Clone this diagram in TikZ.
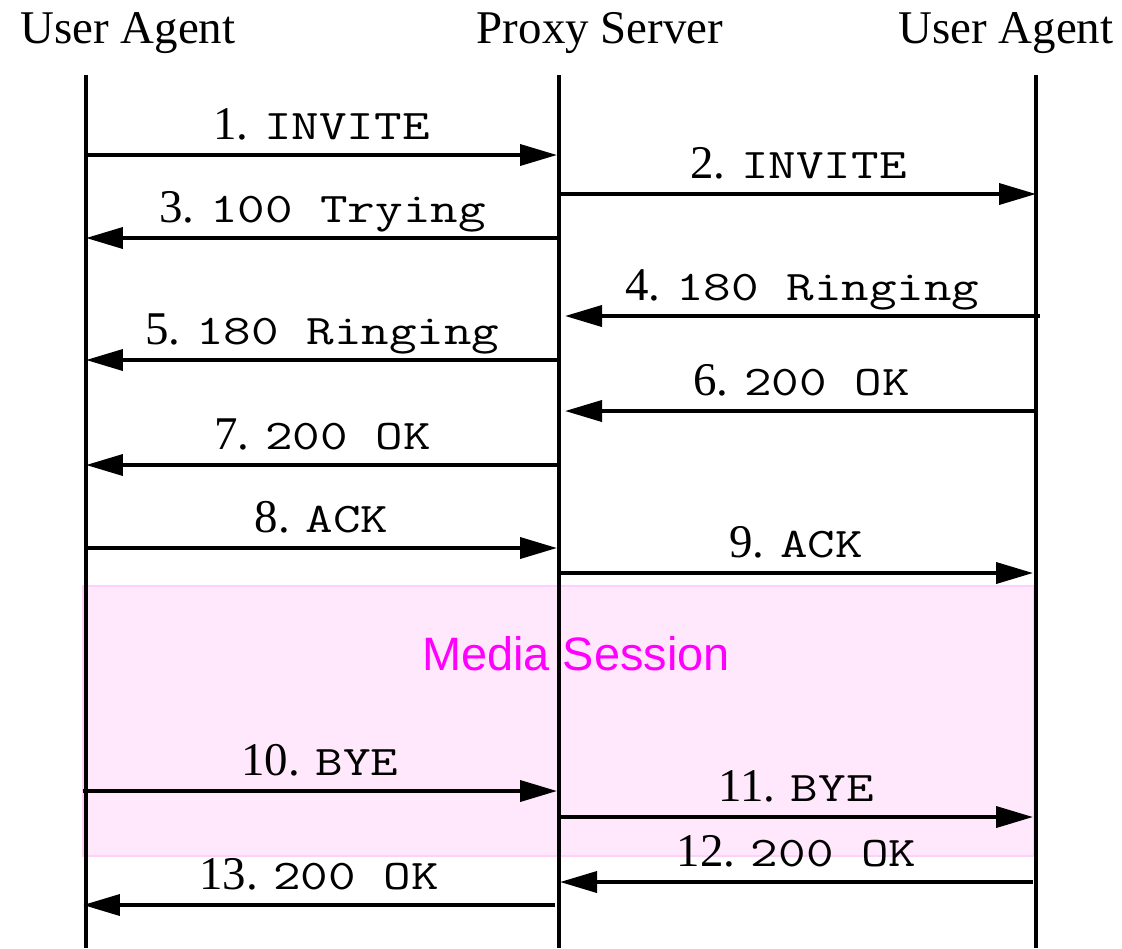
\documentclass[tikz,border=0pt]{standalone}
\usepackage{fontspec}
\setmainfont{Liberation Serif}
\setsansfont{Liberation Sans}
\setmonofont[FakeStretch=1.27]{Latin Modern Mono}
\usetikzlibrary{arrows.meta}
\definecolor{sessfill}{RGB}{255,232,252}
\definecolor{sessline}{RGB}{255,208,250}
\definecolor{sesstext}{RGB}{255,0,255}
\newcommand{\sipmsg}[1]{{\ttfamily\fontsize{24}{30}\selectfont #1}}

\begin{document}
\begin{tikzpicture}[x=0.02cm, y=-0.02cm,
        every node/.style={font=\fontsize{26.7}{32}\selectfont, inner sep=0pt},
        life/.style={line width=0.065cm},
        msg/.style={line width=0.075cm, -{Triangle[length=0.74cm,width=0.42cm]}},
        lab/.style={midway, anchor=base, yshift=0.32cm}]
        \useasboundingbox (0,0) rectangle (1122,948);
        % media session
        \filldraw[fill=sessfill, draw=sessline, line width=0.05cm] (83,586) rectangle (1034,856);
        \node[anchor=base, text=sesstext, font=\sffamily\fontsize{26.7}{32}\selectfont] (media) at (576,670) {Media Session};
        % heads and lifelines
        \node[anchor=base] (uaL) at (128,43) {User Agent};
        \node[anchor=base] (proxy) at (600,43) {Proxy Server};
        \node[anchor=base] (uaR) at (1006,43) {User Agent};
        \coordinate (lifeLtop) at (86,75);   \coordinate (lifeLbot) at (86,948);
        \coordinate (lifePtop) at (559,75);  \coordinate (lifePbot) at (559,948);
        \coordinate (lifeRtop) at (1036,75); \coordinate (lifeRbot) at (1036,948);
        \draw[life] (lifeLtop) -- (lifeLbot);
        \draw[life] (lifePtop) -- (lifePbot);
        \draw[life] (lifeRtop) -- (lifeRbot);
        % messages
        \coordinate (m1a) at (86,155);   \coordinate (m1b) at (557,155);
        \coordinate (m2a) at (561,194);  \coordinate (m2b) at (1036,194);
        \coordinate (m3a) at (559,238);  \coordinate (m3b) at (86,238);
        \coordinate (m4a) at (1040,316); \coordinate (m4b) at (565,316);
        \coordinate (m5a) at (559,360);  \coordinate (m5b) at (86,360);
        \coordinate (m6a) at (1038,411); \coordinate (m6b) at (565,411);
        \coordinate (m7a) at (559,465);  \coordinate (m7b) at (86,465);
        \coordinate (m8a) at (86,548);   \coordinate (m8b) at (557,548);
        \coordinate (m9a) at (559,573);  \coordinate (m9b) at (1033,573);
        \coordinate (m10a) at (83,791);  \coordinate (m10b) at (557,791);
        \coordinate (m11a) at (559,817); \coordinate (m11b) at (1033,817);
        \coordinate (m12a) at (1033,882); \coordinate (m12b) at (560,882);
        \coordinate (m13a) at (555,905); \coordinate (m13b) at (83,905);
        \draw[msg] (m1a) -- (m1b) node[lab]{1. \sipmsg{INVITE}};
        \draw[msg] (m2a) -- (m2b) node[lab]{2. \sipmsg{INVITE}};
        \draw[msg] (m3a) -- (m3b) node[lab]{3. \sipmsg{100 Trying}};
        \draw[msg] (m4a) -- (m4b) node[lab]{4. \sipmsg{180 Ringing}};
        \draw[msg] (m5a) -- (m5b) node[lab]{5. \sipmsg{180 Ringing}};
        \draw[msg] (m6a) -- (m6b) node[lab]{6. \sipmsg{200 OK}};
        \draw[msg] (m7a) -- (m7b) node[lab]{7. \sipmsg{200 OK}};
        \draw[msg] (m8a) -- (m8b) node[lab]{8. \sipmsg{ACK}};
        \draw[msg] (m9a) -- (m9b) node[lab]{9. \sipmsg{ACK}};
        \draw[msg] (m10a) -- (m10b) node[lab]{10. \sipmsg{BYE}};
        \draw[msg] (m11a) -- (m11b) node[lab]{11. \sipmsg{BYE}};
        \draw[msg] (m12a) -- (m12b) node[lab]{12. \sipmsg{200 OK}};
        \draw[msg] (m13a) -- (m13b) node[lab]{13. \sipmsg{200 OK}};
    \end{tikzpicture}
\end{document}
